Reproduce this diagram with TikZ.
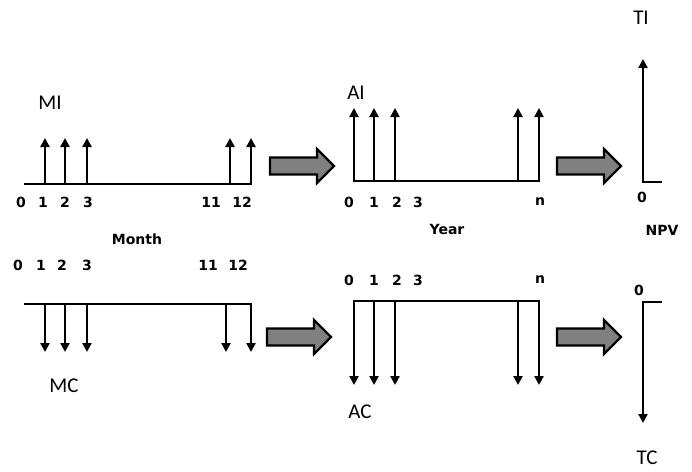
\documentclass[tikz,border=0pt]{standalone}
\usepackage{fontspec}
\newfontfamily\lblfont{Carlito}
\newfontfamily\numfont{DejaVu Sans}
\usetikzlibrary{arrows.meta}
\definecolor{fatgray}{RGB}{128,128,128}
\tikzset{
  axisline/.style={line width=2.6pt, line cap=rect},
  flow/.style={line width=2.4pt, -{Triangle[width=9pt,length=9pt]}},
  num/.style={font=\numfont\bfseries\fontsize{14}{15}\selectfont, inner sep=0pt},
  big/.style={font=\lblfont\fontsize{21}{23}\selectfont, inner sep=0pt},
  fat/.style={draw=black, line width=2.4pt, fill=fatgray, line join=miter},
  fatarrow/.pic={\draw[fat] (0,-8.5) -- (47,-8.5) -- (47,-17) -- (64,0) -- (47,17) -- (47,8.5) -- (0,8.5) -- cycle;}
}
\begin{document}
\begin{tikzpicture}[x=1pt,y=-1pt]
\useasboundingbox (0,0) rectangle (692,471);
% ---------- top left: monthly income ----------
\coordinate (mia) at (25,184);
\coordinate (mib) at (251,184);
\draw[axisline] (mia) -- (mib);
\foreach \x in {45,65,87,230,251} \draw[flow] (\x,184) -- (\x,138);
\node[big] (MI) at (50,103) {MI};
\foreach \x/\t in {21/0,43/1,65/2,88/3,211/11,242/12} \node[num] at (\x,202) {\t};
\node[num] (month) at (137,239) {Month};
% ---------- bottom left: monthly cost ----------
\foreach \x/\t in {18/0,41/1,62/2,87/3,208/11,238/12} \node[num] at (\x,265) {\t};
\coordinate (mca) at (25,304);
\coordinate (mcb) at (251,304);
\draw[axisline] (mca) -- (mcb);
\foreach \x in {45,65,87,226,251} \draw[flow] (\x,304) -- (\x,352);
\node[big] (MC) at (64,386) {MC};
% ---------- fat arrows ----------
\pic at (270,166) {fatarrow};
\pic at (267,337) {fatarrow};
\pic at (557,166) {fatarrow};
\pic at (557,337) {fatarrow};
% ---------- top middle: annual income ----------
\draw[axisline] (354,181) -- (539,181);
\foreach \x in {354,374,395,518,539} \draw[flow] (\x,181) -- (\x,108);
\node[big] (AI) at (356,93) {AI};
\foreach \x/\t in {349/0,374/1,397/2,418/3,540/n} \node[num] at (\x,202) {\t};
\node[num] (year) at (447,229) {Year};
% ---------- bottom middle: annual cost ----------
\foreach \x/\t in {349/0,374/1,397/2,418/3,540/n} \node[num] at (\x,280) {\t};
\draw[axisline] (354,301) -- (539,301);
\foreach \x in {354,374,395,518,539} \draw[flow] (\x,301) -- (\x,385);
\node[big] (AC) at (360,412) {AC};
% ---------- right ----------
\node[big] (TI) at (641,18) {TI};
\draw[flow] (662,182) -- (643,182) -- (643,59);
\node[num] (z1) at (642,197) {0};
\node[num] (npv) at (662,230) {NPV};
\node[num] (z2) at (639,290) {0};
\draw[flow] (662,302) -- (643,302) -- (643,423);
\node[big] (TC) at (647,458) {TC};
\end{tikzpicture}
\end{document}
